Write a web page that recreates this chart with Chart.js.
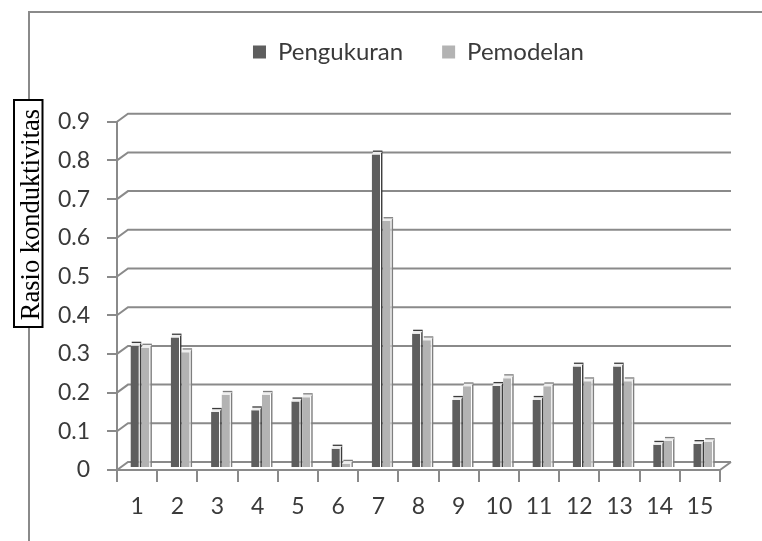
<!DOCTYPE html>
<html>
<head>
<meta charset="utf-8">
<script src="https://cdn.jsdelivr.net/npm/chart.js@4.4.1/dist/chart.umd.min.js"></script>
<style>
  html, body { margin: 0; padding: 0; background: #ffffff; }
  canvas { display: block; }
</style>
</head>
<body>
<canvas id="chart" width="762" height="541"></canvas>
<script>
// Data
const categories = ['1', '2', '3', '4', '5', '6', '7', '8', '9', '10', '11', '12', '13', '14', '15'];
const pengukuran = [0.316, 0.337, 0.145, 0.149, 0.172, 0.050, 0.810, 0.347, 0.176, 0.212, 0.176, 0.262, 0.262, 0.060, 0.062];
const pemodelan  = [0.311, 0.299, 0.189, 0.189, 0.183, 0.011, 0.638, 0.330, 0.211, 0.232, 0.211, 0.224, 0.224, 0.070, 0.067];
const seriesNames = ['Pengukuran', 'Pemodelan'];
const yTickValues = [0, 0.1, 0.2, 0.3, 0.4, 0.5, 0.6, 0.7, 0.8, 0.9];
const yTickLabels = ['0', '0.1', '0.2', '0.3', '0.4', '0.5', '0.6', '0.7', '0.8', '0.9'];
const yTitle = 'Rasio konduktivitas';

// Look
const DARK = '#5e5e5e';
const LIGHT = '#b3b3b3';
const LINE = '#8a8a8a';
const TEXT = '#3a3a3a';
const DEPTH_X = 11;     // back wall offset of the 3D floor/wall
const DEPTH_Y = -8;
const BAR_SHIFT_X = 3;  // bars sit mid-depth
const BAR_SHIFT_Y = -2;
const PLOT_TOP = 121.7;

// white page + outer frame of the chart object
const frame = {
  id: 'frame',
  beforeDraw(chart) {
    const ctx = chart.ctx;
    ctx.save();
    ctx.fillStyle = '#ffffff';
    ctx.fillRect(0, 0, chart.width, chart.height);
    ctx.strokeStyle = LINE;
    ctx.lineWidth = 2;
    ctx.beginPath();
    ctx.moveTo(29, chart.height);
    ctx.lineTo(29, 12);
    ctx.lineTo(chart.width, 12);
    ctx.stroke();
    ctx.restore();
  }
};

// keep the legend band tall so the plot starts lower
const legendBand = {
  id: 'legendBand',
  afterInit(chart) {
    const lg = chart.legend;
    if (!lg) return;
    const fit = lg.fit;
    lg.fit = function () {
      fit.call(this);
      const pad = chart.options.layout.padding.top || 0;
      this.height = Math.max(this.height, PLOT_TOP - pad);
    };
  }
};

// back wall gridlines, floor, and the 3D look of the columns
const wall3d = {
  id: 'wall3d',
  beforeDatasetsDraw(chart) {
    const { ctx, chartArea: a, scales: { y } } = chart;
    ctx.save();
    ctx.strokeStyle = LINE;
    ctx.lineWidth = 2;
    ctx.lineCap = 'butt';
    y.ticks.forEach(t => {
      const py = y.getPixelForValue(t.value);
      ctx.beginPath();
      ctx.moveTo(a.left, py);
      ctx.lineTo(a.left + DEPTH_X, py + DEPTH_Y);
      ctx.lineTo(a.right + DEPTH_X, py + DEPTH_Y);
      ctx.stroke();
    });
    const pb = y.getPixelForValue(0);
    ctx.beginPath();
    ctx.moveTo(a.right, pb);
    ctx.lineTo(a.right + DEPTH_X, pb + DEPTH_Y);
    ctx.stroke();
    ctx.restore();

    ctx.save();
    ctx.translate(BAR_SHIFT_X, BAR_SHIFT_Y);
  },
  afterDatasetsDraw(chart) {
    const ctx = chart.ctx;
    const sideColors = ['#3c3c3c', '#7e7e7e'];
    chart.data.datasets.forEach((ds, di) => {
      const meta = chart.getDatasetMeta(di);
      meta.data.forEach(el => {
        const { x, y, base, width } = el.getProps(['x', 'y', 'base', 'width'], true);
        const l = x - width / 2, r = x + width / 2;
        // side face
        ctx.fillStyle = '#ffffff';
        ctx.fillRect(r, y - 3, 1, base - y + 3);
        ctx.fillStyle = sideColors[di];
        ctx.fillRect(r + 1, y - 3, 1.4, base - y + 3);
        // top face
        ctx.beginPath();
        ctx.moveTo(l, y);
        ctx.lineTo(l + 1.5, y - 3);
        ctx.lineTo(r + 2.4, y - 3);
        ctx.lineTo(r, y);
        ctx.closePath();
        ctx.fillStyle = '#eeeeee';
        ctx.fill();
        ctx.fillStyle = sideColors[di];
        ctx.fillRect(l + 1, y - 4, r - l + 1.4, 1.3);
      });
    });
    ctx.restore();
  }
};

// vertical axis title in its outlined box
const axisTitle = {
  id: 'axisTitle',
  afterDraw(chart) {
    const ctx = chart.ctx;
    ctx.save();
    ctx.fillStyle = '#ffffff';
    ctx.fillRect(14, 100, 28.5, 227);
    ctx.strokeStyle = '#000000';
    ctx.lineWidth = 2;
    ctx.strokeRect(14, 100, 28.5, 227);
    ctx.translate(38.5, 214.5);
    ctx.rotate(-Math.PI / 2);
    ctx.fillStyle = '#000000';
    ctx.font = '26.5px "Liberation Serif", "Times New Roman", serif';
    ctx.textAlign = 'center';
    ctx.textBaseline = 'alphabetic';
    ctx.fillText(yTitle, 0, 0);
    ctx.restore();
  }
};

new Chart(document.getElementById('chart'), {
  type: 'bar',
  data: {
    labels: categories,
    datasets: [
      { label: seriesNames[0], data: pengukuran, backgroundColor: DARK, borderWidth: 0 },
      { label: seriesNames[1], data: pemodelan, backgroundColor: LIGHT, borderWidth: 0 }
    ]
  },
  options: {
    responsive: false,
    animation: false,
    devicePixelRatio: 1,
    layout: { padding: { top: 1, left: 50, right: 42, bottom: 0 } },
    datasets: { bar: { categoryPercentage: 0.53, barPercentage: 0.76 } },
    plugins: {
      legend: {
        position: 'top',
        fullSize: false,
        labels: {
          boxWidth: 13,
          boxHeight: 13,
          padding: 39,
          color: TEXT,
          font: { family: 'Lato', size: 24 }
        }
      },
      tooltip: { enabled: false }
    },
    scales: {
      x: {
        offset: true,
        afterFit(s) { s.height = 71; },
        grid: { display: true, offset: true, drawOnChartArea: false, drawTicks: true, tickLength: 12, color: LINE, lineWidth: 2 },
        border: { display: true, color: LINE, width: 2 },
        ticks: { color: TEXT, font: { family: 'Lato', size: 23 }, padding: 11, maxRotation: 0 }
      },
      y: {
        min: 0,
        max: 0.9,
        afterFit(s) { s.width = 67; },
        afterBuildTicks(s) { s.ticks = yTickValues.map(v => ({ value: v })); },
        grid: { display: true, drawOnChartArea: false, drawTicks: true, tickLength: 10, color: LINE, lineWidth: 2 },
        border: { display: true, color: LINE, width: 2 },
        ticks: {
          color: TEXT,
          font: { family: 'Lato', size: 23 },
          padding: 17,
          callback: (v, i) => yTickLabels[i]
        }
      }
    }
  },
  plugins: [frame, legendBand, wall3d, axisTitle]
});
</script>
</body>
</html>
